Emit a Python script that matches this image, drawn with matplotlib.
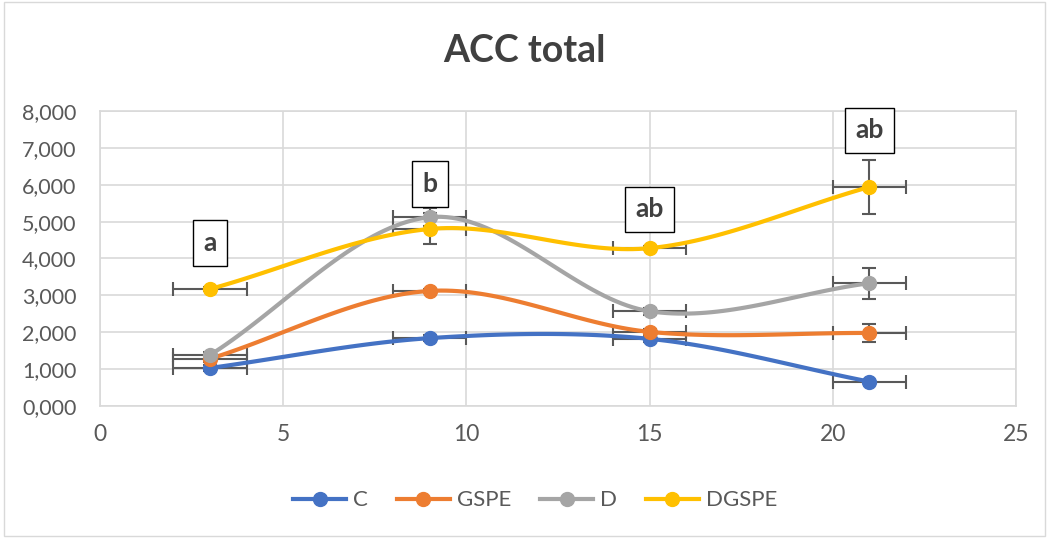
import numpy as np
import matplotlib.pyplot as plt
from matplotlib.patches import Rectangle

days = [3, 9, 15, 21]
series = ["C", "GSPE", "D", "DGSPE"]
colors = ["#4472C4", "#ED7D31", "#A5A5A5", "#FFC000"]
values = {
    "C":     [1.03, 1.84, 1.82, 0.66],
    "GSPE":  [1.28, 3.12, 2.01, 1.98],
    "D":     [1.38, 5.12, 2.57, 3.33],
    "DGSPE": [3.17, 4.80, 4.28, 5.94],
}
y_err = {
    "C":     [0.08, 0.08, 0.08, 0.05],
    "GSPE":  [0.08, 0.06, 0.08, 0.24],
    "D":     [0.08, 0.24, 0.10, 0.42],
    "DGSPE": [0.05, 0.42, 0.05, 0.74],
}
x_err = 1
letters = ["a", "b", "ab", "ab"]
letter_y = [4.42, 6.02, 5.34, 7.48]


def smooth(x, y, n=40):
    # Catmull-Rom through the points, like Excel's smoothed line
    p = np.column_stack([x, y]).astype(float)
    p = np.vstack([2 * p[0] - p[1], p, 2 * p[-1] - p[-2]])
    out = []
    t = np.linspace(0, 1, n)[:, None]
    for i in range(1, len(p) - 2):
        p0, p1, p2, p3 = p[i - 1], p[i], p[i + 1], p[i + 2]
        c1 = p1 + (p2 - p0) / 6
        c2 = p2 - (p3 - p1) / 6
        seg = ((1 - t) ** 3) * p1 + 3 * ((1 - t) ** 2) * t * c1 + 3 * (1 - t) * t ** 2 * c2 + t ** 3 * p2
        out.append(seg)
    out = np.vstack(out)
    return out[:, 0], out[:, 1]


plt.rcParams['font.family'] = ['Lato', 'DejaVu Sans']
fig = plt.figure(figsize=(10.49, 5.38), dpi=100)
ax = fig.add_axes([0.0953, 0.2454, 0.8733, 0.5483])

for name, col in zip(series, colors):
    ys = values[name]
    ax.errorbar(days, ys, xerr=x_err, yerr=y_err[name], fmt='none',
                ecolor='#595959', elinewidth=1.5, capsize=5, capthick=1.5, zorder=2)
for name, col in zip(series, colors):
    sx, sy = smooth(days, values[name])
    ax.plot(sx, sy, color=col, lw=3, zorder=3, solid_capstyle='round')
    ax.plot(days, values[name], 'o', color=col, ms=10, zorder=4)
    ax.plot([], [], '-o', color=col, lw=3, ms=10, label=name)

for x, lab, y in zip(days, letters, letter_y):
    ax.text(x, y, lab, ha='center', va='center', fontsize=19, fontweight='bold',
            color='#404040', zorder=5,
            bbox=dict(boxstyle='square,pad=0.4', fc='white', ec='black', lw=1))

ax.set_xlim(0, 25)
ax.set_ylim(0, 8)
ax.set_xticks(range(0, 26, 5))
ax.set_yticks(range(0, 9))
ax.set_yticklabels([f"{v},000" for v in range(0, 9)])
ax.grid(True, color='#D9D9D9', lw=1.2)
ax.set_axisbelow(True)
for s in ax.spines.values():
    s.set_color('#D9D9D9')
    s.set_linewidth(1.2)
ax.tick_params(length=0, labelsize=15.5, colors='#595959', pad=17)
ax.tick_params(axis='x', labelsize=16.5, pad=13)

fig.text(0.5, 0.905, "ACC total", ha='center', va='center', fontsize=27,
         fontweight='bold', color='#404040')

fig.legend(loc='center', bbox_to_anchor=(0.51, 0.07), ncol=4, frameon=False,
           fontsize=16, labelcolor='#595959', handlelength=2.4, columnspacing=1.3,
           handletextpad=0.3)

fig.patches.append(Rectangle((0.004, 0.004), 0.992, 0.992, transform=fig.transFigure,
                             fill=False, ec='#D9D9D9', lw=1))

fig.savefig("out.png", dpi=100)
